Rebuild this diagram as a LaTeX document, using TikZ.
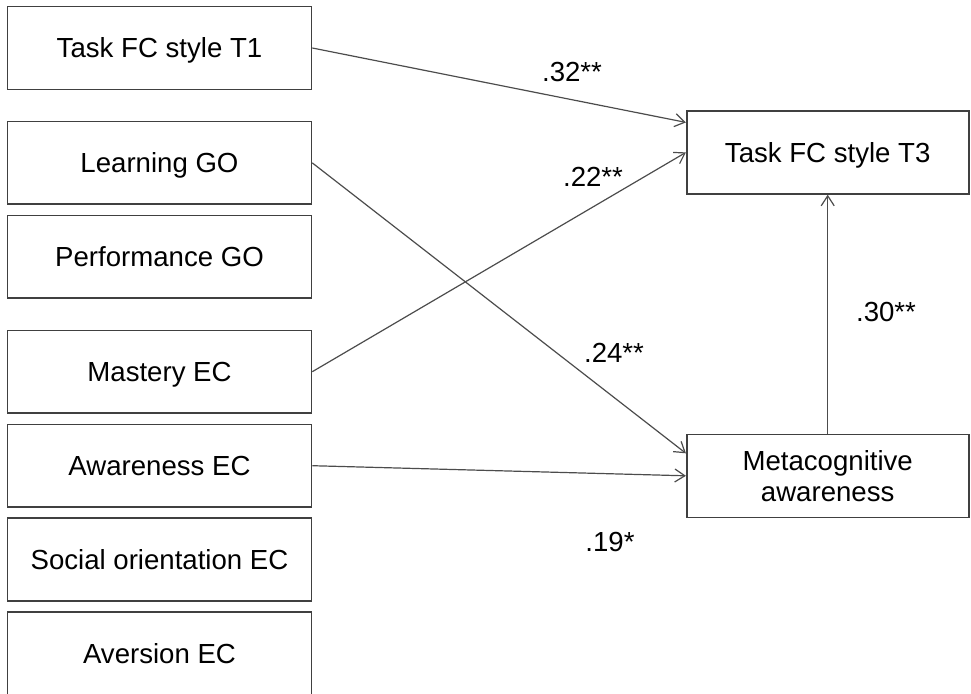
\documentclass[tikz,border=0pt]{standalone}
\usepackage{fontspec}
\setmainfont{Liberation Sans}
\usetikzlibrary{arrows.meta}
\begin{document}
\begin{tikzpicture}[x=1pt,y=-1pt,
  box/.style={draw=black!75, line width=1.6pt, rectangle, minimum width=304pt,
    minimum height=82.6pt, inner sep=0pt, align=center, text depth=0pt,
    font=\fontsize{27.6}{31.5}\selectfont},
  rbox/.style={box, minimum width=282pt, minimum height=83pt},
  link/.style={draw=black!70, line width=1.2pt,
    -{Straight Barb[length=10pt,width=13pt,line width=1.2pt]}},
  coef/.style={inner sep=0pt, font=\fontsize{27.6}{32}\selectfont}]
\useasboundingbox (0,0) rectangle (971,693);
\clip (0,0) rectangle (971,693);

% predictors
\node[box] (t1)  at (159.5,48)    {Task FC style T1};
\node[box] (lgo) at (159.5,162.9) {Learning GO};
\node[box] (pgo) at (159.5,256.9) {Performance GO};
\node[box] (mec) at (159.5,371.7) {Mastery EC};
\node[box] (aec) at (159.5,465.7) {Awareness EC};
\node[box] (sec) at (159.5,559.4) {Social orientation EC};
\node[box] (vec) at (159.5,653.4) {Aversion EC};

% outcomes
\node[rbox] (t3)   at (827.7,152.4) {Task FC style T3};
\node[rbox] (meta) at (827.7,475.8) {Metacognitive\\awareness};

% paths
\draw[link] (t1.east)  -- ([yshift=30pt]t3.west);
\draw[link] (mec.east) -- (t3.west);
\draw[link] (lgo.east) -- ([yshift=22.5pt]meta.west);
\draw[link] (aec.east) -- (meta.west);
\draw[link] (meta.north) -- (t3.south);

% coefficients
\node[coef] (c32) at (572,72)  {.32**};
\node[coef] (c22) at (593,177) {.22**};
\node[coef] (c24) at (614,353) {.24**};
\node[coef] (c19) at (610,542) {.19*};
\node[coef] (c30) at (886,312) {.30**};
\end{tikzpicture}
\end{document}
